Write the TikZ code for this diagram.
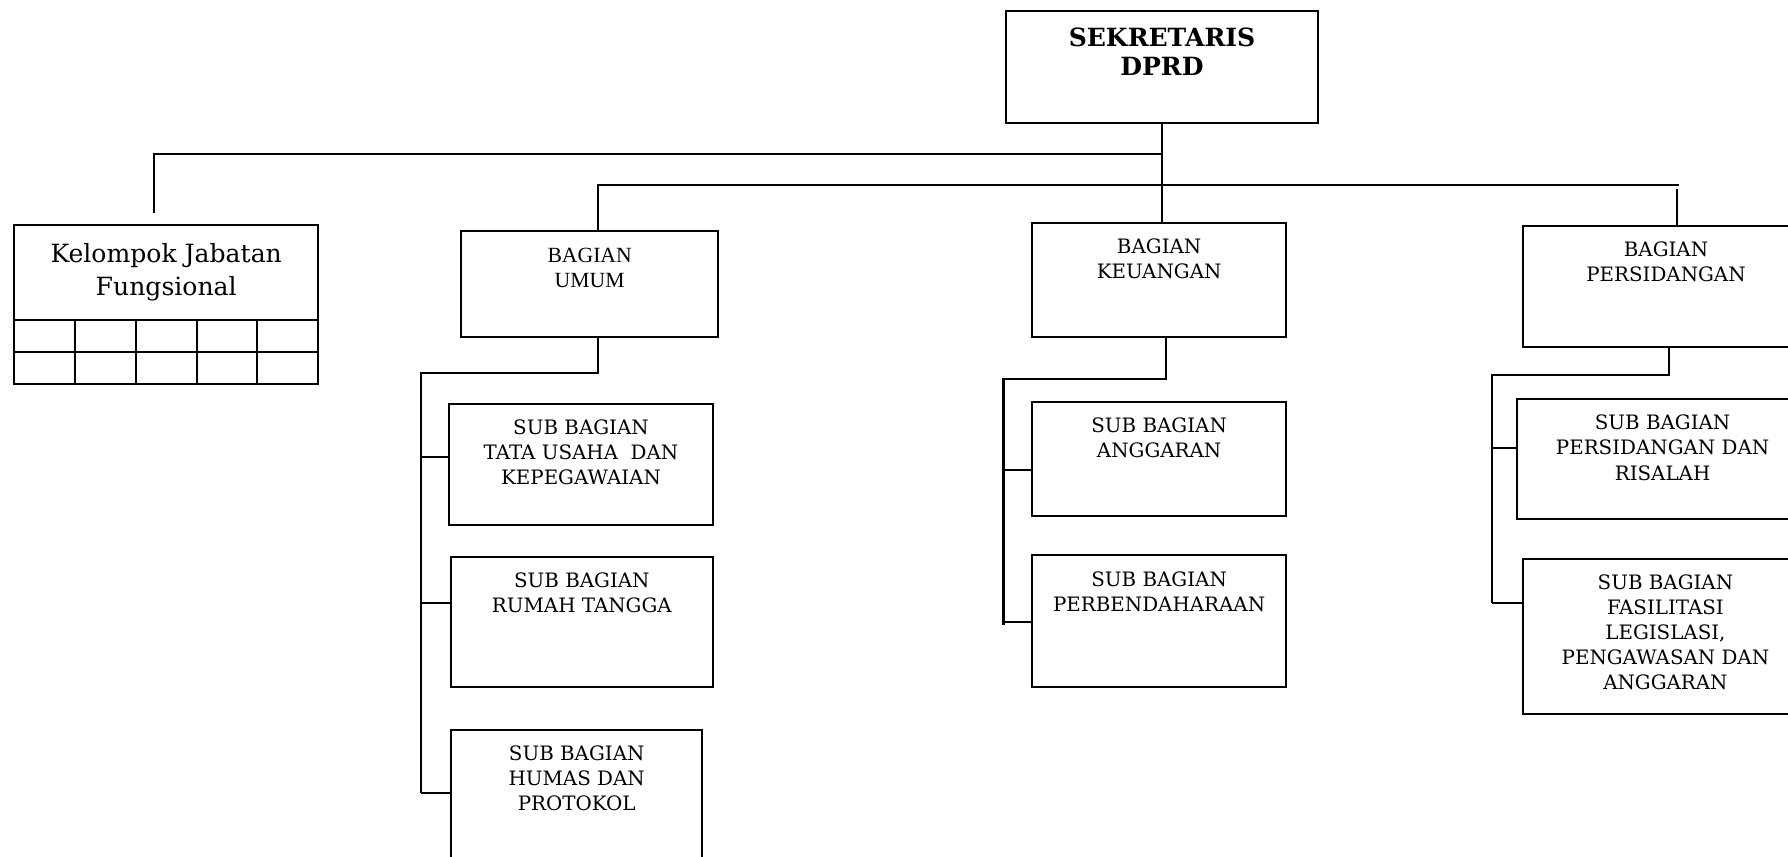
\documentclass[tikz,border=0pt]{standalone}
\usepackage{fontspec}
\setmainfont{DejaVu Serif}
\newfontfamily\umumfont{Liberation Serif}
\usetikzlibrary{positioning}
\newcommand{\boxtext}[4][13.5pt]{\parbox[c][#3][t]{#2}{\centering\rule{0pt}{#1}#4}}

\begin{document}
\begin{tikzpicture}[x=0.5pt, y=-0.5pt, line width=0.9pt,
    unit/.style={draw, inner sep=0pt, outer sep=0pt, anchor=north west, font=\fontsize{8.7}{11}\selectfont},
    head/.style={unit, font=\fontsize{11}{12.8}\selectfont\bfseries}]
  \useasboundingbox (0,0) rectangle (1568,751);
  \clip (0,0) rectangle (1568,751);

  \node[head] (sek) at (882,9.6) {\boxtext[15.7pt]{137pt}{49.2pt}{SEKRETARIS\\DPRD}};
  \node[draw, inner sep=0pt, outer sep=0pt, anchor=north west, minimum width=133.25pt, minimum height=42pt, align=center, font=\fontsize{11}{14.5}\selectfont] (kel) at (12.5,197) {Kelompok Jabatan\\Fungsional};
  \draw (kel.south west) rectangle ++(266.5,56);
  \draw ([yshift=-14pt]kel.south west) -- ++(266.5,0);
  \foreach \i in {1,...,4} \draw ([xshift=\i*26.65pt]kel.south west) -- ++(0,56);

  \node[unit, font=\umumfont\fontsize{9.5}{11}\selectfont] (umum) at (404.4,202.4) {\boxtext[13.75pt]{112.7pt}{46.45pt}{BAGIAN\\UMUM}};
  \node[unit] (keu) at (905,195.6) {\boxtext{111.5pt}{50pt}{BAGIAN\\KEUANGAN}};
  \node[unit] (sid) at (1336,198.2) {\boxtext{125pt}{53pt}{BAGIAN\\PERSIDANGAN}};

  \node[unit] (tata) at (394,354) {\boxtext{115.5pt}{53pt}{SUB BAGIAN\\TATA USAHA\ \ DAN\\KEPEGAWAIAN}};
  \node[unit] (rumah) at (395.5,488.5) {\boxtext{114.75pt}{57pt}{SUB BAGIAN\\RUMAH TANGGA}};
  \node[unit] (humas) at (395.5,640) {\boxtext{110.25pt}{65pt}{SUB BAGIAN\\HUMAS DAN\\PROTOKOL}};
  \node[unit] (angg) at (905,352.6) {\boxtext{111.5pt}{50pt}{SUB BAGIAN\\ANGGARAN}};
  \node[unit] (bend) at (905,487) {\boxtext{111.5pt}{57.8pt}{SUB BAGIAN\\PERBENDAHARAAN}};
  \node[unit] (risalah) at (1330.6,350) {\boxtext{127.4pt}{52.5pt}{SUB BAGIAN\\PERSIDANGAN DAN\\RISALAH}};
  \node[unit] (fasil) at (1336,490) {\boxtext{124.5pt}{68pt}{SUB BAGIAN\\FASILITASI\\LEGISLASI,\\PENGAWASAN DAN\\ANGGARAN}};

  % garis utama
  \coordinate (t1) at (1020,135);
  \coordinate (kelt) at (135,187);
  \coordinate (t2a) at (524.5,162);
  \coordinate (t2b) at (1472.8,162);
  \coordinate (sidt) at (1471,166);
  \draw (sek.south) -- (sek.south |- keu.north);
  \draw (sek.south |- t1) -| (kelt);
  \draw (t2a |- umum.north) -- (t2a) -- (t2b);
  \draw (sidt) -- (sidt |- sid.north);

  % bagian umum
  \coordinate (u1) at (524.6,327.5);
  \coordinate (u2) at (369,327.5);
  \draw (u1 |- umum.south) -- (u1) -- (u2) -- (u2 |- 0,695.7);
  \foreach \b/\y in {tata/401,rumah/529,humas/695.7}
    \draw (u2 |- 0,\y) -- (\b.west |- 0,\y);

  % bagian keuangan
  \coordinate (k1) at (1022.8,332.5);
  \coordinate (k2) at (880,332.5);
  \draw (k1 |- keu.south) -- (k1) -- (k2) -- (k2 |- 0,548);
  \foreach \b/\y in {angg/412,bend/545.6}
    \draw (k2 |- 0,\y) -- (\b.west |- 0,\y);

  % bagian persidangan
  \coordinate (p1) at (1464,329);
  \coordinate (p2) at (1308.5,329);
  \draw (p1 |- sid.south) -- (p1) -- (p2) -- (p2 |- 0,529);
  \foreach \b/\y in {risalah/393,fasil/529}
    \draw (p2 |- 0,\y) -- (\b.west |- 0,\y);
\end{tikzpicture}
\end{document}
